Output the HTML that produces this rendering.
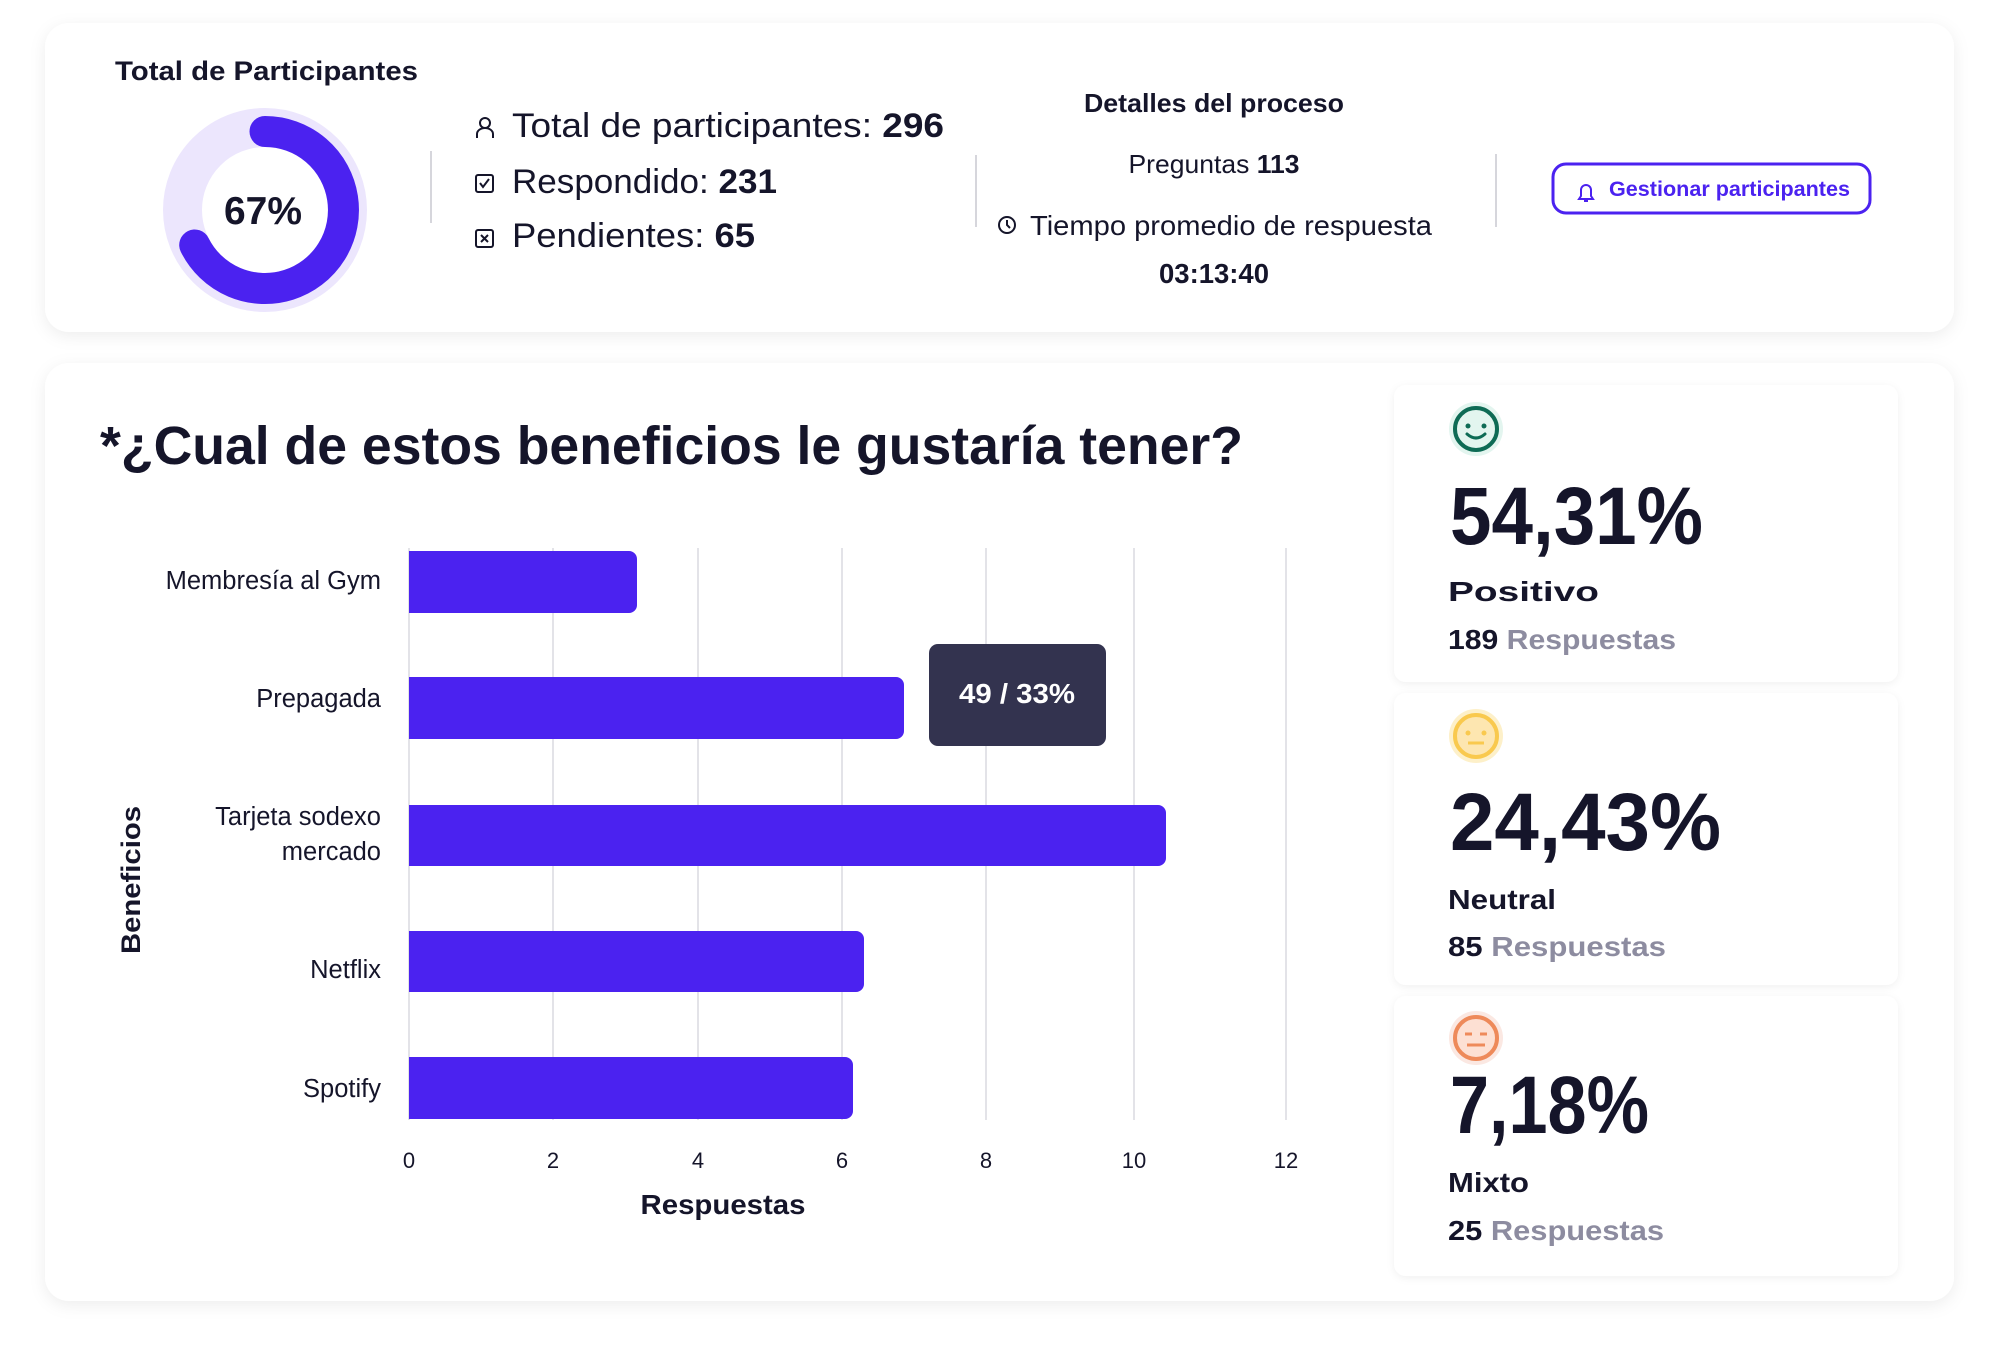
<!DOCTYPE html>
<html><head><meta charset="utf-8"><style>
html,body{margin:0;padding:0;background:#fff;}
svg{display:block;}
text{font-family:"Liberation Sans",sans-serif;}
</style></head><body>
<svg width="2000" height="1348" viewBox="0 0 2000 1348" xmlns="http://www.w3.org/2000/svg">
<defs>
<filter id="sh" x="-5%" y="-10%" width="110%" height="125%"><feDropShadow dx="0" dy="4" stdDeviation="8" flood-color="#000" flood-opacity="0.07"/></filter>
<filter id="sh2" x="-5%" y="-5%" width="110%" height="115%"><feDropShadow dx="0" dy="2" stdDeviation="4" flood-color="#000" flood-opacity="0.06"/></filter>
</defs>
<rect width="2000" height="1348" fill="#fff"/>
<rect x="45" y="23" width="1909" height="309" rx="24" fill="#fff" filter="url(#sh)"/>
<text x="115" y="80" font-size="27" font-weight="bold" fill="#15152a" textLength="303" lengthAdjust="spacingAndGlyphs">Total de Participantes</text>
<circle cx="265" cy="210" r="82.5" fill="none" stroke="#ece6fd" stroke-width="39"/>
<path d="M265,131.5 A78.5,78.5 0 1 1 194.7,245" fill="none" stroke="#4b22f0" stroke-width="31" stroke-linecap="round"/>
<text x="263" y="224" font-size="39" font-weight="bold" fill="#15152a" text-anchor="middle" textLength="78" lengthAdjust="spacingAndGlyphs">67%</text>
<line x1="431" y1="151" x2="431" y2="223" stroke="#d6d6dc" stroke-width="2"/>
<line x1="976" y1="155" x2="976" y2="227" stroke="#d6d6dc" stroke-width="2"/>
<line x1="1496" y1="154" x2="1496" y2="227" stroke="#d6d6dc" stroke-width="2"/>
<g fill="none" stroke="#15152a" stroke-width="2">
<circle cx="485" cy="123" r="5"/><path d="M477,138 v-4 a8,6 0 0 1 16,0 v4"/>
<rect x="476" y="175" width="17" height="17" rx="2"/><path d="M480,183 l3,4 l6,-8"/>
<rect x="476" y="230" width="17" height="17" rx="2"/><path d="M481,235 l7,7 M488,235 l-7,7"/>
</g>
<text x="512" y="137" font-size="34" fill="#15152a" textLength="432" lengthAdjust="spacingAndGlyphs">Total de participantes: <tspan font-weight="bold">296</tspan></text>
<text x="512" y="193" font-size="34" fill="#15152a" textLength="265" lengthAdjust="spacingAndGlyphs">Respondido: <tspan font-weight="bold">231</tspan></text>
<text x="512" y="247" font-size="34" fill="#15152a" textLength="243" lengthAdjust="spacingAndGlyphs">Pendientes: <tspan font-weight="bold">65</tspan></text>
<text x="1214" y="112" font-size="26" font-weight="bold" fill="#15152a" text-anchor="middle" textLength="260" lengthAdjust="spacingAndGlyphs">Detalles del proceso</text>
<text x="1214" y="173" font-size="26" fill="#15152a" text-anchor="middle" textLength="171" lengthAdjust="spacingAndGlyphs">Preguntas <tspan font-weight="bold">113</tspan></text>
<circle cx="1007" cy="225" r="8" fill="none" stroke="#15152a" stroke-width="2"/><path d="M1007,220 v5 l3,3" fill="none" stroke="#15152a" stroke-width="2"/>
<text x="1030" y="235" font-size="28" fill="#15152a" textLength="402" lengthAdjust="spacingAndGlyphs">Tiempo promedio de respuesta</text>
<text x="1214" y="283" font-size="28" font-weight="bold" fill="#15152a" text-anchor="middle" textLength="110" lengthAdjust="spacingAndGlyphs">03:13:40</text>
<rect x="1553" y="164" width="317" height="49" rx="13" fill="#fff" stroke="#4b22f0" stroke-width="3"/>
<path d="M1579,199 h14 l-2,-3 v-6 a5,5 0 0 0 -10,0 v6 z M1584,201 h4" fill="none" stroke="#4b22f0" stroke-width="2"/>
<text x="1609" y="196" font-size="21" font-weight="bold" fill="#4b22f0" textLength="241" lengthAdjust="spacingAndGlyphs">Gestionar participantes</text>
<rect x="45" y="363" width="1909" height="938" rx="24" fill="#fff" filter="url(#sh)"/>
<text x="100" y="464" font-size="54" font-weight="bold" fill="#15152a" textLength="1143" lengthAdjust="spacingAndGlyphs">*¿Cual de estos beneficios le gustaría tener?</text>
<g stroke="#e3e3e8" stroke-width="2">
<line x1="553" y1="548" x2="553" y2="1120"/><line x1="698" y1="548" x2="698" y2="1120"/>
<line x1="842" y1="548" x2="842" y2="1120"/><line x1="986" y1="548" x2="986" y2="1120"/>
<line x1="1134" y1="548" x2="1134" y2="1120"/><line x1="1286" y1="548" x2="1286" y2="1120"/>
<line x1="409" y1="548" x2="409" y2="1120"/>
</g>
<g fill="#4b22f0">
<path d="M409,551 h220 a8,8 0 0 1 8,8 v46 a8,8 0 0 1 -8,8 h-220 z"/>
<path d="M409,677 h487 a8,8 0 0 1 8,8 v46 a8,8 0 0 1 -8,8 h-487 z"/>
<path d="M409,805 h749 a8,8 0 0 1 8,8 v45 a8,8 0 0 1 -8,8 h-749 z"/>
<path d="M409,931 h447 a8,8 0 0 1 8,8 v45 a8,8 0 0 1 -8,8 h-447 z"/>
<path d="M409,1057 h436 a8,8 0 0 1 8,8 v46 a8,8 0 0 1 -8,8 h-436 z"/>
</g>
<g font-size="25.5" fill="#15152a" text-anchor="end">
<text x="381" y="589">Membresía al Gym</text>
<text x="381" y="707">Prepagada</text>
<text x="381" y="825">Tarjeta sodexo</text>
<text x="381" y="860">mercado</text>
<text x="381" y="978">Netflix</text>
<text x="381" y="1097">Spotify</text>
</g>
<g font-size="22" fill="#15152a" text-anchor="middle">
<text x="409" y="1168">0</text><text x="553" y="1168">2</text><text x="698" y="1168">4</text>
<text x="842" y="1168">6</text><text x="986" y="1168">8</text><text x="1134" y="1168">10</text><text x="1286" y="1168">12</text>
</g>
<text x="723" y="1214" font-size="28" font-weight="bold" fill="#15152a" text-anchor="middle" textLength="165" lengthAdjust="spacingAndGlyphs">Respuestas</text>
<text transform="translate(140,880) rotate(-90)" font-size="27" font-weight="bold" fill="#15152a" text-anchor="middle" textLength="148" lengthAdjust="spacingAndGlyphs">Beneficios</text>
<rect x="929" y="644" width="177" height="102" rx="9" fill="#33334f"/>
<text x="1017" y="703" font-size="28" font-weight="bold" fill="#fff" text-anchor="middle" textLength="116" lengthAdjust="spacingAndGlyphs">49 / 33%</text>
<rect x="1394" y="385" width="504" height="297" rx="12" fill="#fff" filter="url(#sh2)"/>
<rect x="1394" y="693" width="504" height="292" rx="12" fill="#fff" filter="url(#sh2)"/>
<rect x="1394" y="996" width="504" height="280" rx="12" fill="#fff" filter="url(#sh2)"/>
<circle cx="1476" cy="429" r="27" fill="#e3f5ef"/><circle cx="1476" cy="429" r="21" fill="none" stroke="#0e6b55" stroke-width="4"/>
<circle cx="1468" cy="426" r="2.5" fill="#0e6b55"/><circle cx="1484" cy="426" r="2.5" fill="#0e6b55"/><path d="M1467,434 q9,8 18,0" fill="none" stroke="#0e6b55" stroke-width="3" stroke-linecap="round"/>
<circle cx="1476" cy="736" r="27" fill="#fdf0c9"/><circle cx="1476" cy="736" r="21" fill="#fde6b0" stroke="#f9c94e" stroke-width="4"/>
<circle cx="1468" cy="733" r="2.5" fill="#f9c94e"/><circle cx="1484" cy="733" r="2.5" fill="#f9c94e"/><path d="M1468,743 h16" stroke="#f9c94e" stroke-width="3"/>
<circle cx="1476" cy="1038" r="27" fill="#fbe8e2"/><circle cx="1476" cy="1038" r="21" fill="#fde0d3" stroke="#ee8a5a" stroke-width="4"/>
<path d="M1465,1034 h7 M1480,1034 h7 M1467,1045 h18" stroke="#ee8a5a" stroke-width="3"/>
<g font-weight="bold" fill="#15152a">
<text x="1450" y="544" font-size="82" textLength="253" lengthAdjust="spacingAndGlyphs">54,31%</text>
<text x="1448" y="601" font-size="28" textLength="151" lengthAdjust="spacingAndGlyphs">Positivo</text>
<text x="1448" y="649" font-size="28" textLength="228" lengthAdjust="spacingAndGlyphs">189 <tspan fill="#8d8ca0">Respuestas</tspan></text>
<text x="1450" y="850" font-size="82" textLength="271" lengthAdjust="spacingAndGlyphs">24,43%</text>
<text x="1448" y="909" font-size="28" textLength="108" lengthAdjust="spacingAndGlyphs">Neutral</text>
<text x="1448" y="956" font-size="28" textLength="218" lengthAdjust="spacingAndGlyphs">85 <tspan fill="#8d8ca0">Respuestas</tspan></text>
<text x="1450" y="1133" font-size="82" textLength="199" lengthAdjust="spacingAndGlyphs">7,18%</text>
<text x="1448" y="1192" font-size="28" textLength="81" lengthAdjust="spacingAndGlyphs">Mixto</text>
<text x="1448" y="1240" font-size="28" textLength="216" lengthAdjust="spacingAndGlyphs">25 <tspan fill="#8d8ca0">Respuestas</tspan></text>
</g>
</svg>
</body></html>
